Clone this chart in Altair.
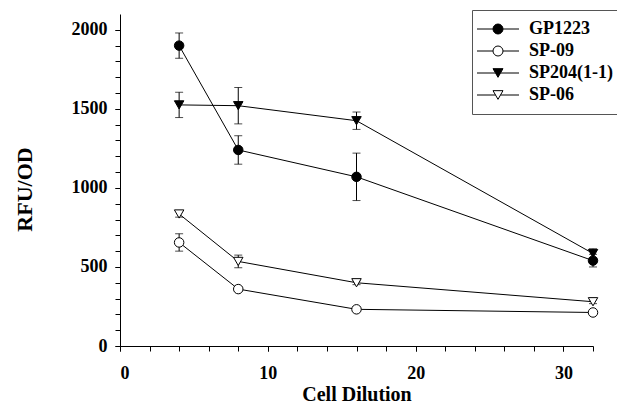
import altair as alt
import pandas as pd

# ---- data ----
dilution = [4, 8, 16, 32]
series_names = ["GP1223", "SP-09", "SP204(1-1)", "SP-06"]
gp1223 = [1900, 1240, 1070, 540]
gp1223_err = [80, 90, 150, 40]
sp09 = [655, 360, 232, 212]
sp09_err = [55, 12, 12, 12]
sp204 = [1525, 1520, 1425, 585]
sp204_err = [80, 115, 55, 30]
sp06 = [835, 535, 400, 280]
sp06_err = [20, 40, 12, 12]

y_major = [0, 500, 1000, 1500, 2000]
y_minor = list(range(0, 2001, 100))
x_major = [0, 10, 20, 30]
x_minor = list(range(0, 33, 2))

rows = []
for name, vals, errs in [("GP1223", gp1223, gp1223_err), ("SP-09", sp09, sp09_err),
                         ("SP204(1-1)", sp204, sp204_err), ("SP-06", sp06, sp06_err)]:
    for x, v, e in zip(dilution, vals, errs):
        rows.append({"series": name, "x": x, "y": v, "lo": v - e, "hi": v + e})
df = pd.DataFrame(rows)

FONT = "Liberation Serif"
xs = alt.Scale(domain=[0, 32], nice=False, zero=False)
ys = alt.Scale(domain=[0, 2100], nice=False)

shape_dom = series_names
shape_rng = ["circle", "circle", "triangle-down", "triangle-down"]
fill_rng = ["black", "white", "black", "white"]
stroke_rng = ["black", "black", "black", "black"]

circ_leg = "M-4.2,0L-1,0M1,0L4.2,0M-1,0A1,1,0,1,1,1,0A1,1,0,1,1,-1,0Z"
tri_leg = "M-4.2,0L-0.5,0M0.5,0L4.2,0M0,0.866L-1,-0.866L1,-0.866Z"
leg_rng = [circ_leg, circ_leg, tri_leg, tri_leg]

base = alt.Chart(df)

x_main_axis = alt.Axis(values=x_major, title="Cell Dilution", tickSize=5, labelPadding=13,
                       titlePadding=2, format="d", orient="bottom")
y_main_axis = alt.Axis(values=y_major, title="RFU/OD", tickSize=5, labelPadding=8,
                       titlePadding=35, format="d", orient="left", titleY=175)
x_minor_axis = alt.Axis(values=x_minor, labels=False, domain=False, tickSize=5, title=None,
                        orient="bottom")
y_minor_axis = alt.Axis(values=y_minor, labels=False, domain=False, tickSize=5, title=None,
                        orient="left")

lines = base.mark_line(color="black", strokeWidth=1).encode(
    x=alt.X("x:Q", scale=xs, axis=x_main_axis),
    y=alt.Y("y:Q", scale=ys, axis=y_main_axis),
    detail="series:N",
)

err_rules = base.mark_rule(color="black", strokeWidth=1).encode(
    x=alt.X("x:Q", scale=xs, axis=x_minor_axis),
    y=alt.Y("lo:Q", scale=ys, axis=y_minor_axis),
    y2="hi:Q",
)

caps_lo = base.mark_tick(color="black", orient="horizontal", size=8, thickness=1).encode(
    x=alt.X("x:Q", scale=xs, axis=None),
    y=alt.Y("lo:Q", scale=ys, axis=None),
)
caps_hi = base.mark_tick(color="black", orient="horizontal", size=8, thickness=1).encode(
    x=alt.X("x:Q", scale=xs, axis=None),
    y=alt.Y("hi:Q", scale=ys, axis=None),
)

points = base.mark_point(filled=True, stroke="black", strokeWidth=1, opacity=1, size=90).encode(
    x=alt.X("x:Q", scale=xs, axis=None),
    y=alt.Y("y:Q", scale=ys, axis=None),
    shape=alt.Shape("series:N", scale=alt.Scale(domain=shape_dom, range=shape_rng), legend=None),
    fill=alt.Fill("series:N", scale=alt.Scale(domain=shape_dom, range=fill_rng), legend=None),
)

legend = alt.Legend(
    title=None, orient="none", legendX=352, legendY=-4,
    labelFont=FONT, labelFontWeight="bold", labelFontSize=18, labelColor="black",
    symbolSize=100, symbolStrokeColor="black", symbolStrokeWidth=1, symbolOpacity=1,
    symbolOffset=7, labelOffset=22, rowPadding=4, padding=10,
    strokeColor="#555", fillColor="white",
)

leg_layer = base.mark_point(filled=True, strokeWidth=1, opacity=0, size=100).encode(
    x=alt.X("x:Q", scale=xs, axis=None),
    y=alt.Y("y:Q", scale=ys, axis=None),
    shape=alt.Shape("series:N", scale=alt.Scale(domain=shape_dom, range=leg_rng), legend=legend,
                    sort=None),
    fill=alt.Fill("series:N", scale=alt.Scale(domain=shape_dom, range=fill_rng), legend=legend,
                  sort=None),
    stroke=alt.Stroke("series:N", scale=alt.Scale(domain=shape_dom, range=stroke_rng),
                      legend=legend, sort=None),
)

chart = alt.layer(lines, err_rules, caps_lo, caps_hi, points, leg_layer).resolve_scale(
    shape="independent", fill="independent", stroke="independent"
).resolve_axis(x="independent", y="independent").properties(
    width=473, height=332,
    background="white",
    autosize=alt.AutoSizeParams(type="none"),
    padding={"left": 112, "top": 6, "right": 24, "bottom": 58},
).configure_view(stroke=None).configure_axis(
    grid=False, domainColor="black", tickColor="black", domainWidth=1, tickWidth=1,
    labelFont=FONT, labelFontWeight="bold", labelFontSize=18, labelColor="black",
    titleFont=FONT, titleFontWeight="bold", titleColor="black",
).configure_axisX(titleFontSize=20).configure_axisY(titleFontSize=22)

chart.save("out.html", embed_options={"renderer": "svg", "actions": False})
